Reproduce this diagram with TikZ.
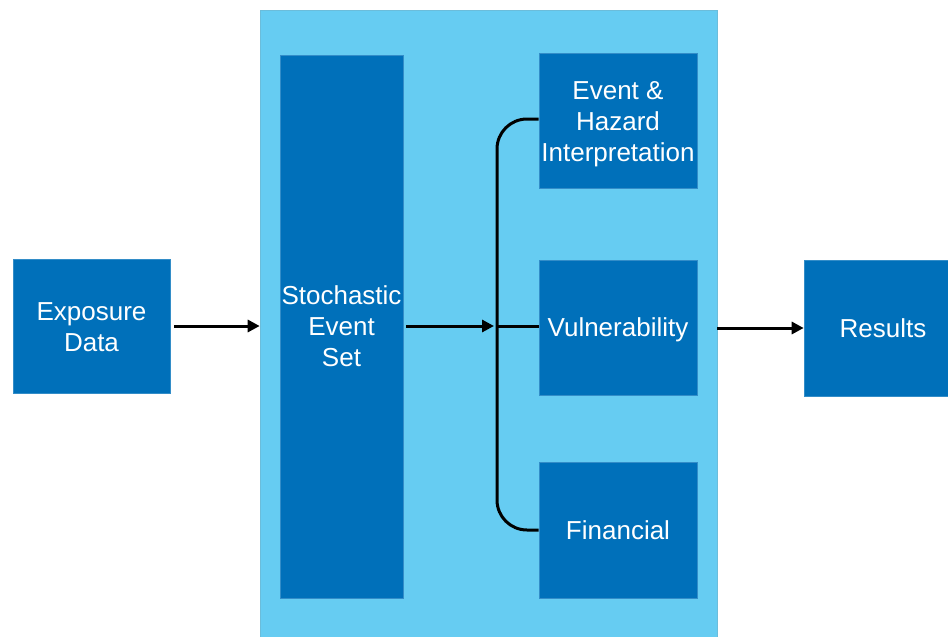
\documentclass[tikz,border=0pt]{standalone}
\usepackage{fontspec}
\setmainfont{Liberation Sans}
\usetikzlibrary{arrows.meta}
\definecolor{panelblue}{HTML}{66CCF2}
\definecolor{boxblue}{HTML}{0070BA}
\tikzset{
  box/.style={fill=boxblue, draw=boxblue!80!white, line width=0.6pt, text=white, align=center,
    inner sep=0pt, font=\fontsize{26}{31}\selectfont},
  flow/.style={line width=3pt, draw=black, -{Triangle[length=12pt,width=12pt]}},
  link/.style={line width=3pt, draw=black}
}
\begin{document}
\begin{tikzpicture}[x=1pt,y=-1pt]
\useasboundingbox (0,0) rectangle (948,637);
% model container
\node[fill=panelblue, draw=panelblue!80!gray, line width=0.6pt, minimum width=457pt, minimum height=627pt, inner sep=0pt] (panel) at (488.5,323.5) {};
% boxes
\node[box, minimum width=157pt, minimum height=134pt] (expo) at (91.5,326) {\rule{0pt}{21pt}Exposure\\Data};
\node[box, minimum width=144pt, minimum height=136pt] (res) at (876,328) {\hspace*{14pt}Results};
\node[box, minimum width=123pt, minimum height=543pt] (stoch) at (341.5,326.5) {Stochastic\\Event\\Set};
\node[box, minimum width=158pt, minimum height=135pt] (event) at (618,120.5) {\rule{0pt}{26pt}Event \&\\Hazard\\Interpretation};
\node[box, minimum width=158pt, minimum height=135pt] (vuln) at (618,327.5) {\rule{0pt}{23pt}Vulnerability};
\node[box, minimum width=158pt, minimum height=136pt] (fin) at (618,530) {Financial};
% junction of the bracket and its top end
\coordinate (br) at (497,326);
\coordinate (top) at ([yshift=1.5pt]event.west);
% connectors
\draw[flow] ([xshift=4pt]expo.east) -- (panel.west |- expo.east);
\draw[flow] ([xshift=3pt]stoch.east |- br) -- ([xshift=-3pt]br);
\draw[link, rounded corners=30pt] (top) -- (br |- top) -- (br |- fin.west) -- (fin.west);
\draw[link] (br) -- (vuln.west |- br);
\draw[flow] (panel.east |- res.west) -- (res.west);
\end{tikzpicture}
\end{document}
